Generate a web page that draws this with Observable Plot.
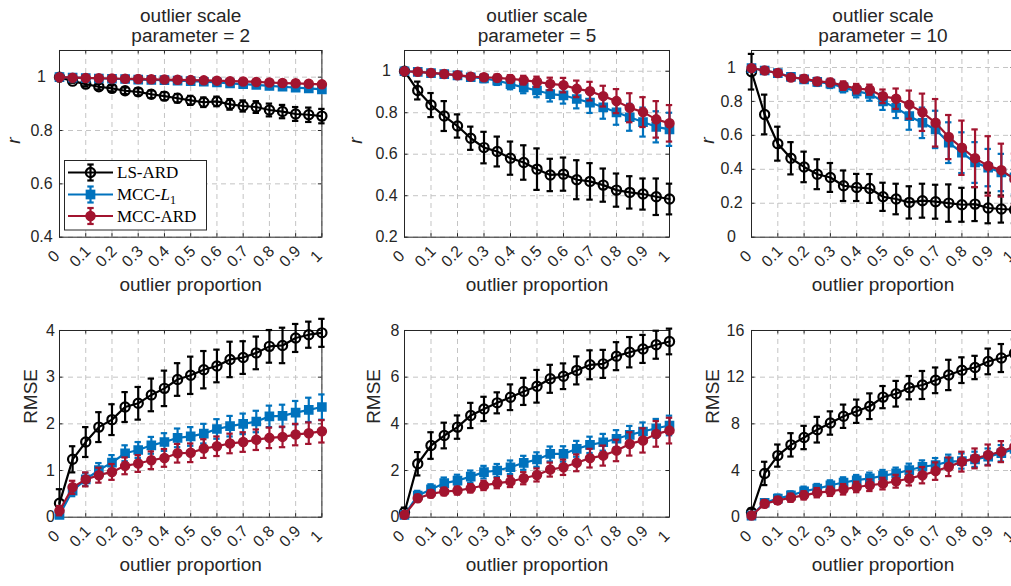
<!DOCTYPE html>
<html><head><meta charset="utf-8">
<script src="https://cdn.jsdelivr.net/npm/d3@7"></script>
<script src="https://cdn.jsdelivr.net/npm/@observablehq/plot@0.6"></script>
<style>
html,body{margin:0;padding:0;background:#fff;overflow:hidden;}
#fig{position:relative;width:1011px;height:586px;overflow:hidden;background:#fff;}
#fig svg{position:absolute;overflow:visible;}
</style></head><body><div id="fig"></div>
<script>
// ---------------- data ----------------
const outlierProportion = [0,0.05,0.1,0.15,0.2,0.25,0.3,0.35,0.4,0.45,0.5,0.55,0.6,0.65,0.7,0.75,0.8,0.85,0.9,0.95,1];
const xTickValues = [0,0.1,0.2,0.3,0.4,0.5,0.6,0.7,0.8,0.9,1];
const xTickLabels = ["0","0.1","0.2","0.3","0.4","0.5","0.6","0.7","0.8","0.9","1"];
const scaleParams = [2,5,10];
const seriesNames = ["LS-ARD","MCC-L1","MCC-ARD"];
const seriesColors = ["#000000","#0072BD","#A2142F"];

// correlation r, scale parameter = 2
const r2_ls      = [1.0,0.985,0.974,0.964,0.958,0.949,0.945,0.936,0.929,0.921,0.913,0.906,0.909,0.898,0.892,0.888,0.877,0.871,0.862,0.859,0.854];
const r2_ls_err  = [0.002,0.006,0.008,0.010,0.011,0.012,0.013,0.014,0.015,0.016,0.017,0.018,0.018,0.020,0.021,0.022,0.024,0.025,0.026,0.027,0.027];
const r2_l1      = [1.0,0.998,0.997,0.995,0.994,0.993,0.991,0.990,0.989,0.987,0.985,0.983,0.980,0.977,0.974,0.971,0.967,0.964,0.961,0.958,0.954];
const r2_l1_err  = [0.001,0.002,0.003,0.003,0.004,0.004,0.005,0.005,0.006,0.006,0.007,0.007,0.008,0.008,0.009,0.009,0.010,0.010,0.011,0.011,0.012];
const r2_ard     = [1.0,0.998,0.997,0.996,0.995,0.994,0.993,0.992,0.991,0.990,0.989,0.988,0.987,0.985,0.984,0.982,0.980,0.978,0.977,0.975,0.973];
const r2_ard_err = [0.001,0.002,0.002,0.003,0.003,0.004,0.004,0.004,0.005,0.005,0.005,0.006,0.006,0.006,0.007,0.007,0.007,0.008,0.008,0.008,0.009];

// correlation r, scale parameter = 5
const r5_ls      = [1.0,0.907,0.837,0.784,0.736,0.677,0.632,0.613,0.581,0.560,0.528,0.500,0.504,0.477,0.469,0.451,0.427,0.416,0.408,0.395,0.384];
const r5_ls_err  = [0.005,0.043,0.058,0.072,0.056,0.056,0.076,0.072,0.080,0.083,0.100,0.078,0.080,0.094,0.088,0.080,0.080,0.078,0.075,0.088,0.074];
const r5_l1      = [1.0,0.997,0.991,0.986,0.980,0.971,0.965,0.955,0.938,0.922,0.907,0.890,0.884,0.866,0.849,0.826,0.802,0.778,0.755,0.732,0.720];
const r5_l1_err  = [0.002,0.005,0.008,0.010,0.012,0.015,0.018,0.021,0.025,0.028,0.032,0.036,0.040,0.045,0.050,0.055,0.060,0.065,0.070,0.075,0.080];
const r5_ard     = [1.0,0.997,0.992,0.987,0.981,0.974,0.971,0.968,0.963,0.957,0.949,0.939,0.933,0.915,0.904,0.880,0.856,0.824,0.803,0.768,0.749];
const r5_ard_err = [0.002,0.004,0.006,0.008,0.010,0.012,0.014,0.016,0.018,0.021,0.025,0.030,0.035,0.040,0.045,0.050,0.058,0.070,0.072,0.088,0.088];

// correlation r, scale parameter = 10
const r10_ls      = [0.975,0.723,0.551,0.465,0.414,0.371,0.352,0.303,0.293,0.287,0.238,0.225,0.205,0.215,0.209,0.201,0.191,0.195,0.172,0.166,0.162];
const r10_ls_err  = [0.105,0.117,0.100,0.095,0.090,0.088,0.085,0.090,0.080,0.085,0.083,0.090,0.095,0.100,0.100,0.110,0.100,0.100,0.090,0.080,0.080];
const r10_l1      = [0.996,0.982,0.967,0.945,0.930,0.915,0.905,0.883,0.859,0.844,0.800,0.762,0.713,0.674,0.635,0.557,0.498,0.440,0.410,0.381,0.352];
const r10_l1_err  = [0.010,0.012,0.015,0.018,0.020,0.024,0.026,0.030,0.035,0.040,0.050,0.060,0.080,0.090,0.110,0.120,0.120,0.120,0.110,0.110,0.100];
const r10_ard     = [0.996,0.982,0.967,0.941,0.934,0.918,0.912,0.893,0.875,0.869,0.830,0.816,0.781,0.736,0.674,0.590,0.527,0.465,0.420,0.395,0.342];
const r10_ard_err = [0.008,0.010,0.012,0.015,0.018,0.020,0.022,0.025,0.028,0.030,0.040,0.060,0.083,0.110,0.140,0.130,0.160,0.170,0.175,0.156,0.150];

// RMSE, scale parameter = 2
const e2_ls      = [0.30,1.24,1.61,1.93,2.09,2.36,2.44,2.62,2.76,2.95,3.04,3.16,3.24,3.38,3.42,3.52,3.66,3.68,3.84,3.91,3.95];
const e2_ls_err  = [0.30,0.28,0.32,0.32,0.33,0.32,0.35,0.35,0.38,0.35,0.40,0.40,0.35,0.38,0.35,0.35,0.35,0.38,0.30,0.28,0.30];
const e2_l1      = [0.05,0.57,0.81,1.01,1.17,1.37,1.44,1.54,1.61,1.70,1.73,1.79,1.89,1.95,2.00,2.05,2.16,2.17,2.24,2.30,2.36];
const e2_l1_err  = [0.05,0.12,0.14,0.15,0.16,0.17,0.17,0.18,0.19,0.20,0.20,0.21,0.21,0.22,0.22,0.23,0.23,0.24,0.25,0.26,0.27];
const e2_ard     = [0.14,0.64,0.81,0.90,0.97,1.10,1.15,1.22,1.27,1.37,1.38,1.47,1.52,1.58,1.61,1.66,1.70,1.72,1.77,1.80,1.84];
const e2_ard_err = [0.10,0.14,0.15,0.16,0.17,0.18,0.18,0.19,0.19,0.20,0.20,0.20,0.21,0.21,0.21,0.22,0.22,0.22,0.23,0.23,0.24];

// RMSE, scale parameter = 5
const e5_ls      = [0.21,2.29,3.07,3.50,3.86,4.36,4.64,4.90,5.14,5.39,5.61,5.93,6.04,6.29,6.53,6.57,6.90,7.07,7.21,7.39,7.53];
const e5_ls_err  = [0.20,0.50,0.57,0.55,0.50,0.54,0.52,0.45,0.55,0.58,0.70,0.60,0.55,0.60,0.62,0.60,0.60,0.65,0.60,0.60,0.55];
const e5_l1      = [0.10,0.93,1.19,1.46,1.57,1.74,1.93,2.00,2.14,2.33,2.47,2.71,2.71,2.93,3.10,3.21,3.36,3.53,3.67,3.81,3.93];
const e5_l1_err  = [0.05,0.20,0.22,0.24,0.25,0.26,0.27,0.28,0.29,0.30,0.31,0.32,0.33,0.34,0.35,0.36,0.37,0.38,0.39,0.40,0.42];
const e5_ard     = [0.10,0.81,1.00,1.10,1.14,1.24,1.36,1.46,1.53,1.67,1.81,2.04,2.14,2.33,2.53,2.64,2.86,3.14,3.29,3.57,3.71];
const e5_ard_err = [0.05,0.15,0.15,0.16,0.17,0.18,0.20,0.22,0.24,0.26,0.28,0.30,0.33,0.36,0.40,0.43,0.46,0.50,0.52,0.55,0.55];

// RMSE, scale parameter = 10
const e10_ls      = [0.43,3.75,5.28,6.20,6.83,7.50,8.07,8.65,9.08,9.51,10.29,10.58,11.10,11.33,11.73,12.19,12.60,12.83,13.35,13.64,14.04];
const e10_ls_err  = [0.30,1.00,0.95,1.00,1.00,1.10,1.00,1.00,1.00,1.10,0.95,1.10,1.00,1.20,1.10,1.30,1.10,1.00,1.10,1.20,1.20];
const e10_l1      = [0.14,1.24,1.59,1.87,2.22,2.45,2.74,2.97,3.17,3.32,3.55,3.75,4.04,4.32,4.47,4.76,4.81,4.96,5.19,5.48,5.85];
const e10_l1_err  = [0.10,0.30,0.35,0.35,0.40,0.40,0.42,0.45,0.45,0.50,0.50,0.50,0.55,0.55,0.60,0.60,0.65,0.65,0.70,0.70,0.75];
const e10_ard     = [0.14,1.15,1.44,1.67,1.87,2.10,2.22,2.39,2.59,2.74,2.88,3.08,3.32,3.60,3.95,4.32,4.76,5.04,5.33,5.62,6.05];
const e10_ard_err = [0.10,0.30,0.30,0.35,0.35,0.40,0.40,0.45,0.45,0.50,0.50,0.55,0.60,0.70,0.75,0.80,0.85,0.85,0.90,0.90,0.90];

// y ticks per panel
const rTicks = [[0.4,0.6,0.8,1],[0.2,0.4,0.6,0.8,1],[0,0.2,0.4,0.6,0.8,1]];
const rTickLabels = [["0.4","0.6","0.8","1"],["0.2","0.4","0.6","0.8","1"],["0","0.2","0.4","0.6","0.8","1"]];
const rDomains = [[0.4,1.1],[0.2,1.1],[0,1.1]];
const eTicks = [[0,1,2,3,4],[0,2,4,6,8],[0,4,8,12,16]];
const eTickLabels = [["0","1","2","3","4"],["0","2","4","6","8"],["0","4","8","12","16"]];
const eDomains = [[0,4],[0,8],[0,16]];

// ---------------- layout ----------------
const INK = "#262626";
const colLeft = [59.3, 404.3, 751];
const colWidth = [262.4, 265, 263];
const rowTop = [50, 330];
const innerH = 186.7;
const ML = 70, MR = 20, MT = 50, MB = 70;
const yTickLabelOffset = [[18,18,20],[9,9.5,16]];
const yLabelOffset = [[46,49,44],[29,31,39]];
const SANS = "'Liberation Sans', Arial, Helvetica, sans-serif";
const SERIF = "'Liberation Serif', 'Times New Roman', serif";

const rSeries = [
  [[r2_ls,r2_ls_err],[r2_l1,r2_l1_err],[r2_ard,r2_ard_err]],
  [[r5_ls,r5_ls_err],[r5_l1,r5_l1_err],[r5_ard,r5_ard_err]],
  [[r10_ls,r10_ls_err],[r10_l1,r10_l1_err],[r10_ard,r10_ard_err]]
];
const eSeries = [
  [[e2_ls,e2_ls_err],[e2_l1,e2_l1_err],[e2_ard,e2_ard_err]],
  [[e5_ls,e5_ls_err],[e5_l1,e5_l1_err],[e5_ard,e5_ard_err]],
  [[e10_ls,e10_ls_err],[e10_l1,e10_l1_err],[e10_ard,e10_ard_err]]
];

const fig = document.getElementById("fig");

function seriesMarks(vals, errs, k) {
  const color = seriesColors[k];
  const data = outlierProportion.map((x, i) => ({x, y: vals[i], e: errs[i]}));
  const sw = 2.2;
  const marks = [
    Plot.line(data, {x: "x", y: "y", stroke: color, strokeWidth: sw}),
    Plot.ruleX(data, {x: "x", y1: d => d.y - d.e, y2: d => d.y + d.e, stroke: color, strokeWidth: sw}),
    Plot.ruleY(data, {y: d => d.y - d.e, x1: "x", x2: "x", insetLeft: -3.2, insetRight: -3.2, stroke: color, strokeWidth: sw}),
    Plot.ruleY(data, {y: d => d.y + d.e, x1: "x", x2: "x", insetLeft: -3.2, insetRight: -3.2, stroke: color, strokeWidth: sw})
  ];
  if (k === 0) marks.push(Plot.dot(data, {x: "x", y: "y", r: 4.6, symbol: "circle", stroke: color, fill: "none", strokeWidth: 2.2}));
  if (k === 1) marks.push(Plot.dot(data, {x: "x", y: "y", r: 4.6, symbol: "square", stroke: color, fill: color, strokeWidth: 1.5}));
  if (k === 2) marks.push(Plot.dot(data, {x: "x", y: "y", r: 4.5, symbol: "circle", stroke: color, fill: color, strokeWidth: 1.5}));
  return marks;
}

function panel(row, col) {
  const domain = row === 0 ? rDomains[col] : eDomains[col];
  const yt = row === 0 ? rTicks[col] : eTicks[col];
  const ytl = row === 0 ? rTickLabels[col] : eTickLabels[col];
  const series = row === 0 ? rSeries[col] : eSeries[col];
  const w = colWidth[col];
  const marks = [
    Plot.gridX(xTickValues, {stroke: "#c4c4c4", strokeOpacity: 1, strokeDasharray: "5,4", strokeWidth: 1}),
    Plot.gridY(yt, {stroke: "#c4c4c4", strokeOpacity: 1, strokeDasharray: "5,4", strokeWidth: 1}),
    Plot.frame({stroke: INK, strokeWidth: 1}),
    // inward ticks on all four sides
    Plot.ruleX(xTickValues, {x: d => d, y1: domain[0], y2: domain[0], insetTop: -3.5, stroke: INK}),
    Plot.ruleX(xTickValues, {x: d => d, y1: domain[1], y2: domain[1], insetBottom: -3.5, stroke: INK}),
    Plot.ruleY(yt, {y: d => d, x1: 0, x2: 0, insetRight: -3.5, stroke: INK}),
    Plot.ruleY(yt, {y: d => d, x1: 1, x2: 1, insetLeft: -3.5, stroke: INK}),
    // tick labels
    Plot.text(xTickValues, {x: d => d, text: (d, i) => xTickLabels[i], frameAnchor: "bottom", rotate: -45, textAnchor: "middle", dy: 23, dx: -2, fontSize: 16, fill: INK}),
    Plot.text(yt, {y: d => d, text: (d, i) => ytl[i], frameAnchor: "left", textAnchor: "middle", dx: -yTickLabelOffset[row][col], fontSize: 16, fill: INK}),
    // axis labels
    Plot.text(["outlier proportion"], {frameAnchor: "bottom", lineAnchor: "bottom", dy: 54, fontSize: 19, fill: INK}),
    Plot.text([row === 0 ? "r" : "RMSE"], {frameAnchor: "left", rotate: -90, dx: -yLabelOffset[row][col], fontSize: 19, fill: INK, fontStyle: row === 0 ? "italic" : "normal"})
  ];
  if (row === 0) {
    marks.push(Plot.text(["outlier scale"], {frameAnchor: "top", lineAnchor: "bottom", dy: -28.5, fontSize: 19, fill: INK}));
    marks.push(Plot.text(["parameter = " + scaleParams[col]], {frameAnchor: "top", lineAnchor: "bottom", dy: -8.5, fontSize: 19, fill: INK}));
  }
  series.forEach(([v, e], k) => marks.push(...seriesMarks(v, e, k)));
  const svg = Plot.plot({
    width: ML + w + MR,
    height: MT + innerH + MB,
    marginLeft: ML, marginRight: MR, marginTop: MT, marginBottom: MB,
    x: {domain: [0, 1], axis: null},
    y: {domain, axis: null},
    style: {fontFamily: SANS, background: "transparent", overflow: "visible", color: INK},
    marks
  });
  svg.style.left = (colLeft[col] - ML) + "px";
  svg.style.top = (rowTop[row] - MT) + "px";
  fig.appendChild(svg);
}

for (let row = 0; row < 2; row++) for (let col = 0; col < 3; col++) panel(row, col);

// ---------------- legend (inside first panel) ----------------
const leg = d3.select(fig).append("svg")
  .attr("width", 1011).attr("height", 586)
  .style("left", "0px").style("top", "0px").style("pointer-events", "none");
leg.append("rect").attr("x", 64.5).attr("y", 160.5).attr("width", 142).attr("height", 69.5)
  .attr("fill", "#fff").attr("stroke", INK).attr("stroke-width", 1);
const legY = [172.5, 194.5, 216];
seriesNames.forEach((name, k) => {
  const g = leg.append("g").attr("transform", `translate(0,${legY[k]})`);
  const c = seriesColors[k];
  g.append("line").attr("x1", 68).attr("x2", 113).attr("y1", 0).attr("y2", 0).attr("stroke", c).attr("stroke-width", 2.2);
  g.append("line").attr("x1", 90.5).attr("x2", 90.5).attr("y1", -8).attr("y2", 8).attr("stroke", c).attr("stroke-width", 2.2);
  g.append("line").attr("x1", 87.3).attr("x2", 93.7).attr("y1", -8).attr("y2", -8).attr("stroke", c).attr("stroke-width", 2.2);
  g.append("line").attr("x1", 87.3).attr("x2", 93.7).attr("y1", 8).attr("y2", 8).attr("stroke", c).attr("stroke-width", 2.2);
  if (k === 0) g.append("circle").attr("cx", 90.5).attr("cy", 0).attr("r", 4.6).attr("fill", "none").attr("stroke", c).attr("stroke-width", 2.2);
  if (k === 1) g.append("rect").attr("x", 86.4).attr("y", -4.1).attr("width", 8.2).attr("height", 8.2).attr("fill", c).attr("stroke", c).attr("stroke-width", 1.5);
  if (k === 2) g.append("circle").attr("cx", 90.5).attr("cy", 0).attr("r", 4.5).attr("fill", c).attr("stroke", c).attr("stroke-width", 1.5);
  const t = g.append("text").attr("x", 117).attr("y", 0).attr("dy", "0.35em")
    .attr("font-family", SERIF).attr("font-size", 17).attr("fill", "#000");
  if (name === "MCC-L1") {
    t.append("tspan").text("MCC-");
    t.append("tspan").attr("font-style", "italic").text("L");
    t.append("tspan").attr("font-size", 12).attr("dy", "0.3em").text("1");
  } else {
    t.text(name);
  }
});
</script>
</body></html>
